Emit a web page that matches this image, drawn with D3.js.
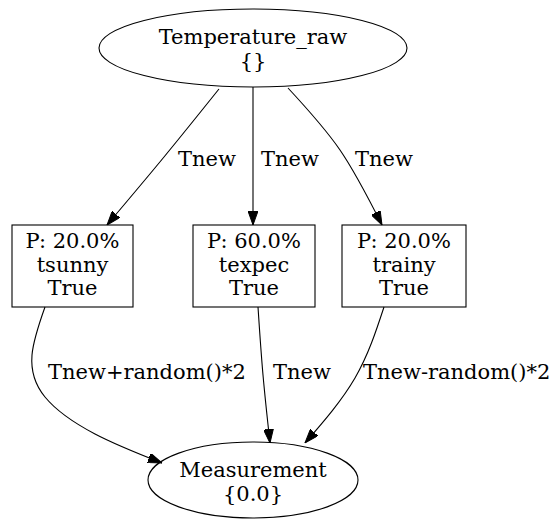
<!DOCTYPE html>
<html>
<head>
<meta charset="utf-8">
<script src="https://cdn.jsdelivr.net/npm/d3@7"></script>
<style>
  body { margin: 0; background: #fff; }
  text { font-family: "DejaVu Serif", serif; font-size: 21px; fill: #000; }
</style>
</head>
<body>
<svg id="chart" width="553" height="519"></svg>
<script>
// node labels
var rootLabel = ["Temperature_raw", "{}"];
var midNames = ["tsunny", "texpec", "trainy"];
var midProbs = [20.0, 60.0, 20.0];
var midValues = ["True", "True", "True"];
var leafLabel = ["Measurement", "{0.0}"];

// edge labels
var topEdgeLabels = ["Tnew", "Tnew", "Tnew"];
var bottomEdgeLabels = ["Tnew+random()*2", "Tnew", "Tnew-random()*2"];

var svg = d3.select("#chart");
var lineH = 23.5;

// layout (graphviz-like placement)
var root = { cx: 253, cy: 48, rx: 154, ry: 39 };
var leaf = { cx: 253, cy: 480, rx: 105, ry: 38 };
var boxes = [
    { x: 12, w: 121 },
    { x: 193, w: 122 },
    { x: 342, w: 124 }
];
var boxTop = 225, boxH = 82;

var defs = svg.append("defs");
defs.append("marker")
    .attr("id", "arrow")
    .attr("viewBox", "0 0 14 10")
    .attr("refX", 14).attr("refY", 5)
    .attr("markerWidth", 14).attr("markerHeight", 10)
    .attr("markerUnits", "userSpaceOnUse")
    .attr("orient", "auto")
    .append("path")
    .attr("d", "M0,0L14,5L0,10Z")
    .attr("fill", "#000").attr("stroke", "#000");

function multiText(g, lines, cx, firstBase) {
    g.selectAll(null).data(lines).enter().append("text")
        .attr("x", cx)
        .attr("y", function(d, i) { return firstBase + i * lineH; })
        .attr("text-anchor", "middle")
        .text(function(d) { return d; });
}

// edges
var topRoutes = [
    [[219, 89], [164, 157], [107, 225]],
    [[253, 87], [253, 156], [253, 225]],
    [[288, 88], [340, 150], [382, 225]]
];
var bottomRoutes = [
    [[45, 307], [32, 355], [45, 397], [95, 434], [162, 463]],
    [[258, 307], [263, 375], [270, 443]],
    [[384, 307], [355, 378], [305, 443]]
];
var line = d3.line().curve(d3.curveNatural);

var edges = svg.append("g").attr("fill", "none").attr("stroke", "#000").attr("stroke-width", 1.1);
edges.selectAll(".top").data(topRoutes).enter().append("path")
    .attr("d", line).attr("marker-end", "url(#arrow)");
edges.selectAll(".bot").data(bottomRoutes).enter().append("path")
    .attr("d", line).attr("marker-end", "url(#arrow)");

var topLabelX = [178, 261, 355];
svg.append("g").selectAll("text").data(topEdgeLabels).enter().append("text")
    .attr("x", function(d, i) { return topLabelX[i]; })
    .attr("y", 166)
    .text(function(d) { return d; });

var botLabelX = [48, 273, 363];
svg.append("g").selectAll("text").data(bottomEdgeLabels).enter().append("text")
    .attr("x", function(d, i) { return botLabelX[i]; })
    .attr("y", 379)
    .text(function(d) { return d; });

// root node
var gRoot = svg.append("g");
gRoot.append("ellipse")
    .attr("cx", root.cx).attr("cy", root.cy).attr("rx", root.rx).attr("ry", root.ry)
    .attr("fill", "none").attr("stroke", "#000").attr("stroke-width", 1.1);
multiText(gRoot, rootLabel, root.cx, 44);

// middle nodes
var gMid = svg.append("g").selectAll("g").data(midNames).enter().append("g");
gMid.append("rect")
    .attr("x", function(d, i) { return boxes[i].x; })
    .attr("y", boxTop)
    .attr("width", function(d, i) { return boxes[i].w; })
    .attr("height", boxH)
    .attr("fill", "none").attr("stroke", "#000").attr("stroke-width", 1.1);
gMid.each(function(d, i) {
    var lines = ["P: " + midProbs[i].toFixed(1) + "%", d, midValues[i]];
    multiText(d3.select(this), lines, boxes[i].x + boxes[i].w / 2, 248);
});

// leaf node
var gLeaf = svg.append("g");
gLeaf.append("ellipse")
    .attr("cx", leaf.cx).attr("cy", leaf.cy).attr("rx", leaf.rx).attr("ry", leaf.ry)
    .attr("fill", "none").attr("stroke", "#000").attr("stroke-width", 1.1);
multiText(gLeaf, leafLabel, leaf.cx, 477);
</script>
</body>
</html>
